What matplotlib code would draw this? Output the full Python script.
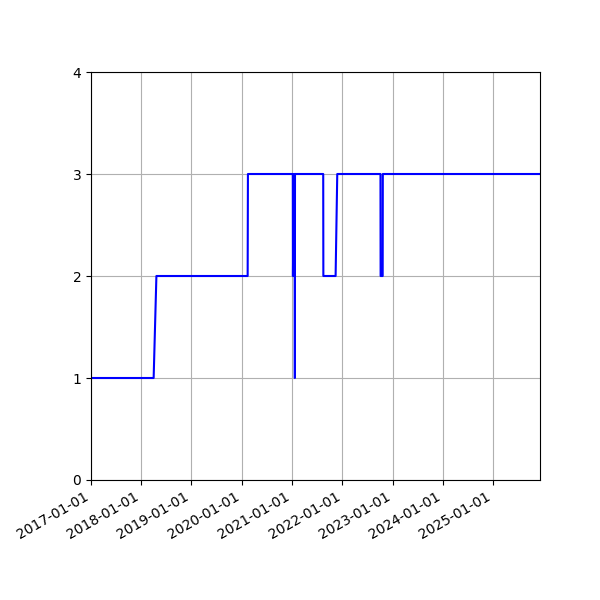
import numpy as np
import pandas as pd
import matplotlib
matplotlib.use("Agg")
import matplotlib.pyplot as plt
import matplotlib.dates as mdates

dates = ["2017-01-01", "2018-04-01", "2018-04-21", "2020-02-13", "2020-02-15",
         "2021-01-06", "2021-01-07", "2021-01-13", "2021-01-20", "2021-01-21", "2021-01-22",
         "2021-08-15", "2021-08-16", "2021-11-13", "2021-11-25",
         "2022-10-05", "2022-10-06", "2022-10-21", "2022-10-22", "2025-12-07"]
values = [1, 1, 2, 2, 3,
          3, 2, 3, 3, 1, 3,
          3, 2, 2, 3,
          3, 2, 2, 3, 3]

x = pd.to_datetime(dates)

fig, ax = plt.subplots(figsize=(6, 6), dpi=100)
ax.plot(x, values, color='blue')
ax.set_xlim(x[0], x[-1])
ax.set_ylim(0, 4)
ax.set_yticks([0, 1, 2, 3, 4])
ax.xaxis.set_major_locator(mdates.YearLocator())
ax.xaxis.set_major_formatter(mdates.DateFormatter('%Y-%m-%d'))
ax.grid(True)
fig.autofmt_xdate()
fig.subplots_adjust(left=0.1517, right=0.9, bottom=0.2, top=0.88)

plt.savefig("out.png")
